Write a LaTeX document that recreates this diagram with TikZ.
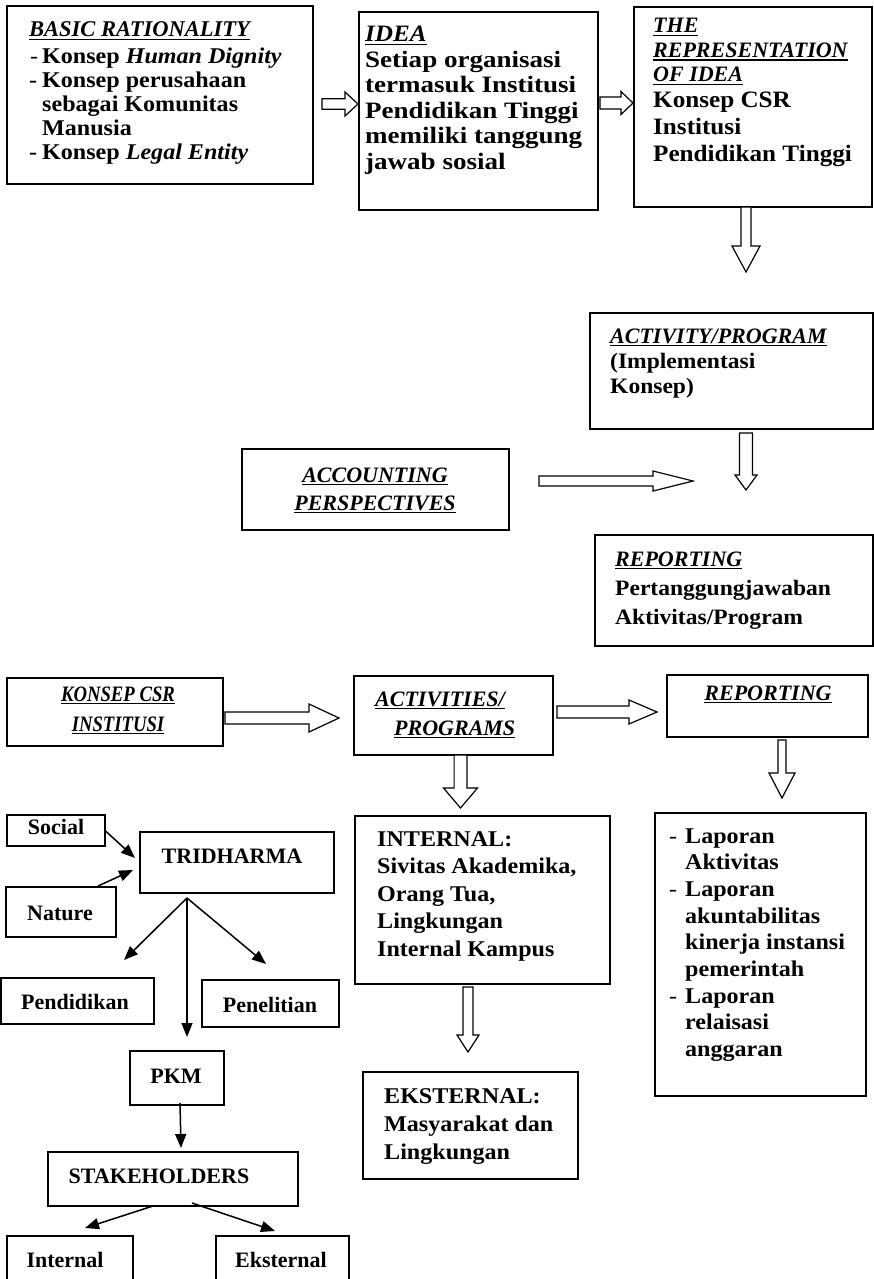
\documentclass[tikz,border=0pt]{standalone}
\usepackage{fontspec}
\setmainfont{Liberation Serif}
\newfontfamily\wf[FakeStretch=1.07]{Liberation Serif}
\newfontfamily\wff[FakeStretch=1.15]{Liberation Serif}
\newfontfamily\nf[FakeStretch=0.85]{Liberation Serif}
\usetikzlibrary{arrows.meta,calc}
\newsavebox\ulbox
\newcommand{\ul}[1]{\sbox\ulbox{#1}\rlap{\rule[-3.2pt]{\wd\ulbox}{1.3pt}}\usebox\ulbox}
\newcommand{\hd}[1]{\ul{\rmfamily\bfseries\itshape #1}}
\newcommand{\hds}[1]{\ul{\rmfamily\bfseries\itshape\fontsize{22}{27}\selectfont #1}}
\newcommand{\hdw}[1]{\ul{\wf\bfseries\itshape #1}}
\newcommand{\hdn}[1]{\ul{\nf\bfseries\itshape #1}}
\newcommand{\dsh}{\makebox[13pt][l]{-}}
\newcommand{\ind}{\hspace*{13pt}}
\newcommand{\harr}[5]{\draw[blk] let \p1=(#1), \p2=(#2) in (\x1,\y2+#3pt) -- (\x2-#5pt,\y2+#3pt) -- (\x2-#5pt,\y2+#4pt) -- (\x2,\y2) -- (\x2-#5pt,\y2-#4pt) -- (\x2-#5pt,\y2-#3pt) -- (\x1,\y2-#3pt) -- cycle;}
\newcommand{\varr}[5]{\draw[blk] let \p1=(#1), \p2=(#2) in (\x2-#3pt,\y1) -- (\x2-#3pt,\y2+#5pt) -- (\x2-#4pt,\y2+#5pt) -- (\x2,\y2) -- (\x2+#4pt,\y2+#5pt) -- (\x2+#3pt,\y2+#5pt) -- (\x2+#3pt,\y1) -- cycle;}
\begin{document}
\begin{tikzpicture}[x=1pt,y=-1pt,
 bx/.style={draw, line width=1.6pt, inner sep=0pt, outer sep=0pt, anchor=north west},
 blk/.style={draw, line width=1.2pt, line join=miter, fill=white},
 tx/.style={inner sep=0pt, anchor=base west},
 tc/.style={inner sep=0pt, anchor=base},
 thinarr/.style={line width=1.5pt, -{Triangle[length=14pt,width=11pt]}},
 lf/.style={font=\rmfamily\bfseries\fontsize{22}{24}\selectfont}]
\fill[white] (0,0) rectangle (874,1279);
\useasboundingbox (0,0) rectangle (874,1279);
% ---------- top row boxes
\node[bx, minimum width=306pt, minimum height=178pt] (b1) at (7,6) {};
\node[bx, minimum width=239pt, minimum height=198pt] (b2) at (359,12) {};
\node[bx, minimum width=238pt, minimum height=200pt] (b3) at (634,7) {};
% middle
\node[bx, minimum width=283pt, minimum height=116pt] (b4) at (590,313) {};
\node[bx, minimum width=267pt, minimum height=81pt] (b5) at (242,449) {};
\node[bx, minimum width=278pt, minimum height=111pt] (b6) at (595,535) {};
% bottom row
\node[bx, minimum width=216pt, minimum height=68pt] (b7) at (7,678) {};
\node[bx, minimum width=199pt, minimum height=79pt] (b8) at (354,676) {};
\node[bx, minimum width=201pt, minimum height=62pt] (b9) at (667,675) {};
\node[bx, minimum width=255pt, minimum height=168pt] (b10) at (355,816) {};
\node[bx, minimum width=215pt, minimum height=107pt] (b11) at (363,1072) {};
\node[bx, minimum width=211pt, minimum height=283pt] (b12) at (655,813) {};
% left tree
\node[bx, minimum width=98pt, minimum height=31pt] (social) at (7,815) {};
\node[bx, minimum width=194pt, minimum height=61pt] (trid) at (140,832) {};
\node[bx, minimum width=110pt, minimum height=50pt] (nature) at (6,887) {};
\node[bx, minimum width=153pt, minimum height=46pt] (pend) at (1,978) {};
\node[bx, minimum width=137pt, minimum height=47pt] (pene) at (202,980) {};
\node[bx, minimum width=94pt, minimum height=54pt] (pkm) at (130,1051) {};
\node[bx, minimum width=250pt, minimum height=54pt] (stake) at (48,1152) {};
\node[bx, minimum width=126pt, minimum height=70pt] (intl) at (7,1236) {};
\node[bx, minimum width=133pt, minimum height=70pt] (ekst) at (216,1236) {};
% ---------- texts
\node[tx] (t1) at (29,37) {\wf\bfseries\fontsize{22.5}{24}\selectfont
\begin{tabular}[t]{@{}l@{}}
\hd{BASIC RATIONALITY}\\[3pt]
\makebox[13pt][l]{\mdseries\hspace*{1pt}-}Konsep \textit{Human Dignity}\\
\dsh Konsep perusahaan\\
\ind sebagai Komunitas\\
\ind Manusia\\
\dsh Konsep \textit{Legal Entity}
\end{tabular}};
\node[tx] (t2) at (365,42) {\wff\bfseries\fontsize{23.5}{25.5}\selectfont
\begin{tabular}[t]{@{}l@{}}
\hdw{IDEA}\\
Setiap organisasi\\
termasuk Institusi\\
Pendidikan Tinggi\\
memiliki tanggung\\
jawab sosial
\end{tabular}};
\node[tx] (t3) at (653,33) {\wf\bfseries\fontsize{23.5}{27}\selectfont
\begin{tabular}[t]{@{}l@{}}
\hds{THE}\\[-2.5pt]
\hds{REPRESENTATION}\\[-2.5pt]
\hds{OF IDEA}\\[-1pt]
Konsep CSR\\
Institusi\\
Pendidikan Tinggi
\end{tabular}};
\node[tx] (t4) at (610,343) {\wf\bfseries\fontsize{22}{25}\selectfont
\begin{tabular}[t]{@{}l@{}}
\hd{ACTIVITY/PROGRAM}\\
(Implementasi\\
Konsep)
\end{tabular}};
\node[tc] (t5) at (375,482) {\wf\bfseries\fontsize{22}{28}\selectfont
\begin{tabular}[t]{@{}c@{}}
\hd{ACCOUNTING}\\
\hd{PERSPECTIVES}
\end{tabular}};
\node[tx] (t6) at (615,566) {\wf\bfseries\fontsize{22}{29}\selectfont
\begin{tabular}[t]{@{}l@{}}
\hd{REPORTING}\\
Pertanggungjawaban\\
Aktivitas/Program
\end{tabular}};
\node[tc] (t7) at (118,701) {\wf\bfseries\fontsize{22}{30}\selectfont
\begin{tabular}[t]{@{}c@{}}
\hdn{KONSEP CSR}\\
\hdn{INSTITUSI}
\end{tabular}};
\node[tx] (t8) at (375,706) {\wf\bfseries\fontsize{22}{29}\selectfont
\begin{tabular}[t]{@{}l@{}}
\hd{ACTIVITIES/}\\
\hspace*{19pt}\hd{PROGRAMS}
\end{tabular}};
\node[tc] (t9) at (768,700) {\wf\bfseries\fontsize{22}{28}\selectfont \hd{REPORTING}};
\node[tx] (t10) at (377,846) {\wf\bfseries\fontsize{22.5}{27.5}\selectfont
\begin{tabular}[t]{@{}l@{}}
INTERNAL:\\
Sivitas Akademika,\\
Orang Tua,\\
Lingkungan\\
Internal Kampus
\end{tabular}};
\node[tx] (t11) at (384,1103) {\wf\bfseries\fontsize{22.5}{28}\selectfont
\begin{tabular}[t]{@{}l@{}}
EKSTERNAL:\\
Masyarakat dan\\
Lingkungan
\end{tabular}};
\node[tx] (t12) at (669,843) {\wf\bfseries\fontsize{22.5}{26.7}\selectfont
\begin{tabular}[t]{@{}l@{}}
\makebox[16pt][l]{\mdseries-}Laporan\\
\hspace*{16pt}Aktivitas\\
\makebox[16pt][l]{\mdseries-}Laporan\\
\hspace*{16pt}akuntabilitas\\
\hspace*{16pt}kinerja instansi\\
\hspace*{16pt}pemerintah\\
\makebox[16pt][l]{\mdseries-}Laporan\\
\hspace*{16pt}relaisasi\\
\hspace*{16pt}anggaran
\end{tabular}};
% left labels
\node[tc,lf] (ls) at (56,834) {Social};
\node[tc,lf] (lt) at (232,863) {TRIDHARMA};
\node[tc,lf] (ln) at (60,920) {Nature};
\node[tc,lf] (lpd) at (75,1009) {Pendidikan};
\node[tc,lf] (lpn) at (270,1012) {Penelitian};
\node[tc,lf] (lpk) at (176,1083) {PKM};
\node[tc,lf] (lst) at (159,1183) {STAKEHOLDERS};
\node[tc,lf] (lin) at (65,1267) {Internal};
\node[tc,lf] (lek) at (281,1267) {Eksternal};
% ---------- block arrows
\coordinate (a1s) at ($(b1.east)+(9,0)$);
\coordinate (a1t) at ($(b2.west)+(-1,-7)$);
\harr{a1s}{a1t}{5.3}{12}{13}
\coordinate (a2s) at ($(b2.east)+(2,0)$);
\coordinate (a2t) at ($(b3.west)+(-1,-4)$);
\harr{a2s}{a2t}{6}{11.5}{12}
\coordinate (a3s) at (b3.south);
\coordinate (a3t) at ($(b3.south)+(-7,65)$);
\varr{a3s}{a3t}{5}{14}{26}
\coordinate (a4s) at ($(b4.south)+(0,4)$);
\coordinate (a4t) at ($(b6.north)+(12,-45)$);
\varr{a4s}{a4t}{6.5}{11}{15}
\coordinate (a5s) at ($(b5.east)+(30,0)$);
\coordinate (a5t) at ($(b4.south west)+(103,52)$);
\harr{a5s}{a5t}{5}{10}{40}
\coordinate (a6s) at ($(b7.east)+(2,0)$);
\coordinate (a6t) at ($(b8.west)+(-15,2.5)$);
\harr{a6s}{a6t}{6}{14}{30}
\coordinate (a7s) at ($(b8.east)+(4,0)$);
\coordinate (a7t) at ($(b9.west)+(-10,6)$);
\harr{a7s}{a7t}{6}{12}{28}
\coordinate (a8s) at (b8.south);
\coordinate (a8t) at ($(b10.north)+(-22,-8)$);
\varr{a8s}{a8t}{6.4}{17}{20}
\coordinate (a9s) at ($(b9.south)+(0,3)$);
\coordinate (a9t) at ($(b12.north)+(21.5,-15)$);
\varr{a9s}{a9t}{4}{13}{25}
\coordinate (a10s) at ($(b10.south)+(0,3)$);
\coordinate (a10t) at ($(b11.north)+(-2.5,-20)$);
\varr{a10s}{a10t}{5}{11}{17}
% ---------- thin arrows
\coordinate (stip) at ($(trid.west)+(-5,-4.5)$);
\draw[thinarr] (social.east) -- (stip);
\coordinate (nst) at ($(nature.north east)+(-18,-1)$);
\coordinate (ntip) at ($(trid.west)+(-7,7.5)$);
\draw[thinarr] (nst) -- (ntip);
\coordinate (tsplit) at ($(trid.south)+(-50,5)$);
\coordinate (pdtip) at ($(pend.north)+(46.5,-18)$);
\coordinate (pntip) at ($(pene.north)+(-4.5,-16)$);
\coordinate (pktip) at ($(pkm.north)+(10,-14)$);
\draw[thinarr] (tsplit) -- (pdtip);
\draw[thinarr] (tsplit) -- (pntip);
\draw[thinarr] (tsplit) -- (pktip);
\coordinate (pks) at ($(pkm.south)+(3,-2)$);
\coordinate (sttip) at ($(stake.north)+(8,-4)$);
\draw[thinarr] (pks) -- (sttip);
\coordinate (st1) at ($(stake.south)+(-20,0)$);
\coordinate (intip) at ($(intl.north)+(15,-8)$);
\draw[thinarr] (st1) -- (intip);
\coordinate (st2) at ($(stake.south)+(19,-3)$);
\coordinate (ektip) at ($(ekst.north)+(-7.5,-5)$);
\draw[thinarr] (st2) -- (ektip);
\end{tikzpicture}
\end{document}
